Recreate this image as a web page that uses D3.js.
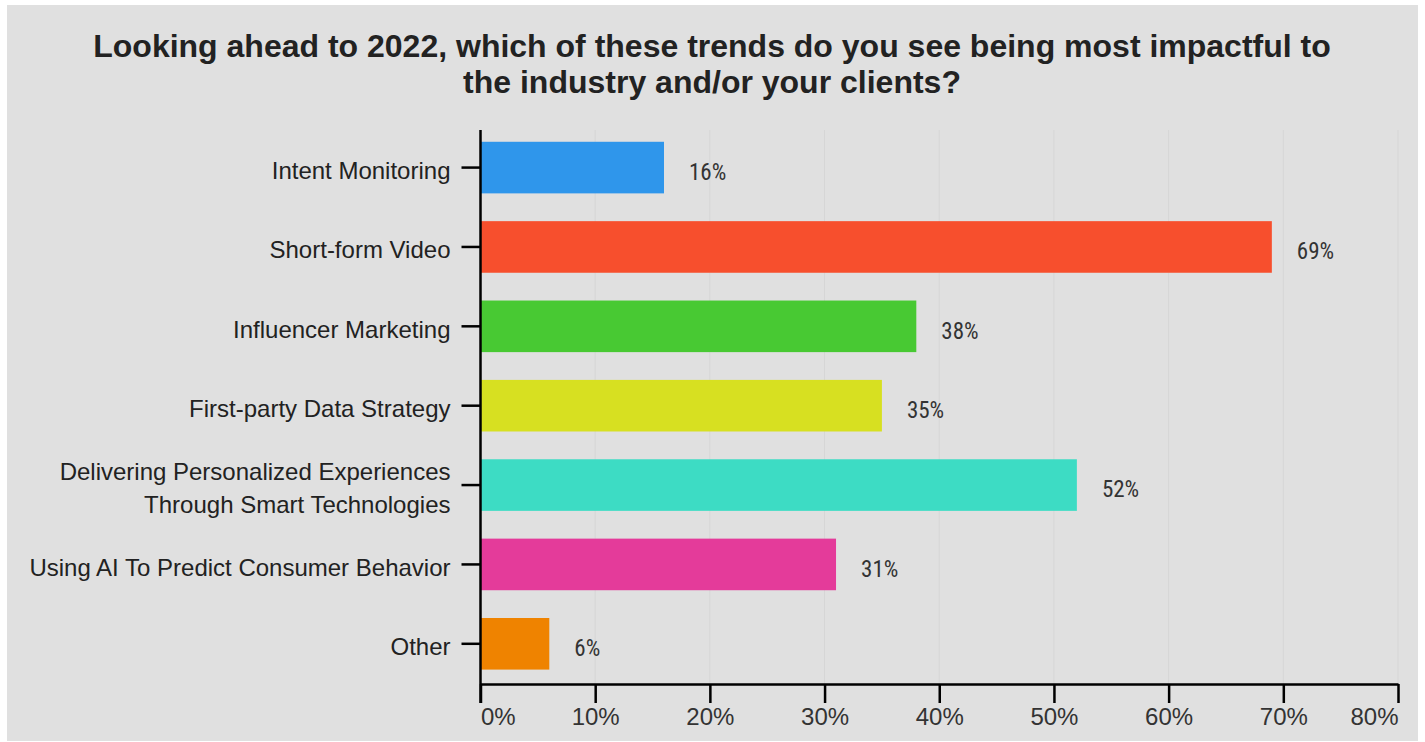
<!DOCTYPE html>
<html>
<head>
<meta charset="utf-8">
<script src="https://cdn.jsdelivr.net/npm/d3@7"></script>
<style>
  html, body { margin: 0; padding: 0; background: #ffffff; }
  svg { display: block; }
</style>
</head>
<body>
<svg id="chart" width="1425" height="742"></svg>
<script>
// Survey answers and their shares (%)
const categories = [
  "Intent Monitoring",
  "Short-form Video",
  "Influencer Marketing",
  "First-party Data Strategy",
  "Delivering Personalized Experiences\nThrough Smart Technologies",
  "Using AI To Predict Consumer Behavior",
  "Other"
];
const values = [16, 69, 38, 35, 52, 31, 6];
const barColors = ["#2f96eb", "#f74f2d", "#48c933", "#d7e021", "#3ddcc4", "#e43b9a", "#ef8300"];
const xTicks = [0, 10, 20, 30, 40, 50, 60, 70, 80];
const titleLines = [
  "Looking ahead to 2022, which of these trends do you see being most impactful to",
  "the industry and/or your clients?"
];

const svg = d3.select("#chart");

// panel background
svg.append("rect")
  .attr("x", 7).attr("y", 5)
  .attr("width", 1411).attr("height", 736)
  .attr("fill", "#e0e0e0");

// title
svg.append("g").selectAll("text")
  .data(titleLines)
  .join("text")
  .attr("x", 712)
  .attr("y", (d, i) => 57 + i * 36)
  .attr("text-anchor", "middle")
  .attr("font-family", "Liberation Sans, Arial, sans-serif")
  .attr("font-weight", "bold")
  .attr("font-size", 32)
  .attr("fill", "#222222")
  .text(d => d);

const plot = { left: 480.5, right: 1398, top: 130, bottom: 684 };

const x = d3.scaleLinear().domain([0, 80]).range([plot.left, plot.right]);
const y = d3.scaleBand().domain(categories).range([plot.top, plot.bottom])
  .paddingInner(0.35).paddingOuter(0.165).align(0.45);

// vertical grid lines
svg.append("g").selectAll("line")
  .data(xTicks.slice(1))
  .join("line")
  .attr("x1", d => x(d)).attr("x2", d => x(d))
  .attr("y1", plot.top).attr("y2", plot.bottom)
  .attr("stroke", "#d6d6d6")
  .attr("stroke-width", 1);

// bars
svg.append("g").selectAll("rect")
  .data(values)
  .join("rect")
  .attr("x", x(0))
  .attr("y", (d, i) => y(categories[i]))
  .attr("width", d => x(d) - x(0))
  .attr("height", y.bandwidth())
  .attr("fill", (d, i) => barColors[i]);

// value labels
svg.append("g").selectAll("text")
  .data(values)
  .join("text")
  .attr("x", d => x(d) + 25)
  .attr("y", (d, i) => y(categories[i]) + y.bandwidth() / 2)
  .attr("dy", "0.53em")
  .attr("font-family", "Liberation Sans Narrow, Roboto Condensed, DejaVu Sans Condensed, sans-serif")
  .attr("font-stretch", "condensed")
  .attr("font-size", 23)
  .attr("fill", "#333333")
  .text(d => d + "%");

// x axis
const xAxis = d3.axisBottom(x)
  .tickValues(xTicks)
  .tickFormat(d => d + "%")
  .tickSize(19)
  .tickSizeOuter(0)
  .tickPadding(5);

const gx = svg.append("g")
  .attr("transform", `translate(0,${plot.bottom})`)
  .call(xAxis);
gx.select(".domain").attr("stroke", "#000").attr("stroke-width", 2.5);
gx.selectAll(".tick line").attr("stroke", "#000").attr("stroke-width", 2.5);
gx.selectAll(".tick text")
  .attr("font-family", "Liberation Sans, Arial, sans-serif")
  .attr("font-size", 24)
  .attr("fill", "#333333")
  .attr("text-anchor", (d, i) => i === 0 ? "start" : (i === xTicks.length - 1 ? "end" : "middle"));

// y axis
const yAxis = d3.axisLeft(y).tickSize(19).tickSizeOuter(0).tickFormat("");
const gy = svg.append("g")
  .attr("transform", `translate(${plot.left},0)`)
  .call(yAxis);
gy.select(".domain").remove();
gy.selectAll(".tick line").attr("stroke", "#000").attr("stroke-width", 2.5);
gy.append("line")
  .attr("x1", 0).attr("x2", 0)
  .attr("y1", plot.top).attr("y2", plot.bottom + 19)
  .attr("stroke", "#000").attr("stroke-width", 2.5);

// category labels (multi-line where needed)
gy.selectAll(".tick").each(function(d) {
  const lines = d.split("\n");
  const t = d3.select(this).append("text")
    .attr("text-anchor", "end")
    .attr("font-family", "Liberation Sans, Arial, sans-serif")
    .attr("font-size", 24)
    .attr("fill", "#222222");
  lines.forEach((ln, k) => {
    t.append("tspan")
      .attr("x", -30)
      .attr("y", (k - (lines.length - 1) / 2) * 33)
      .attr("dy", "0.48em")
      .text(ln);
  });
});
</script>
</body>
</html>
